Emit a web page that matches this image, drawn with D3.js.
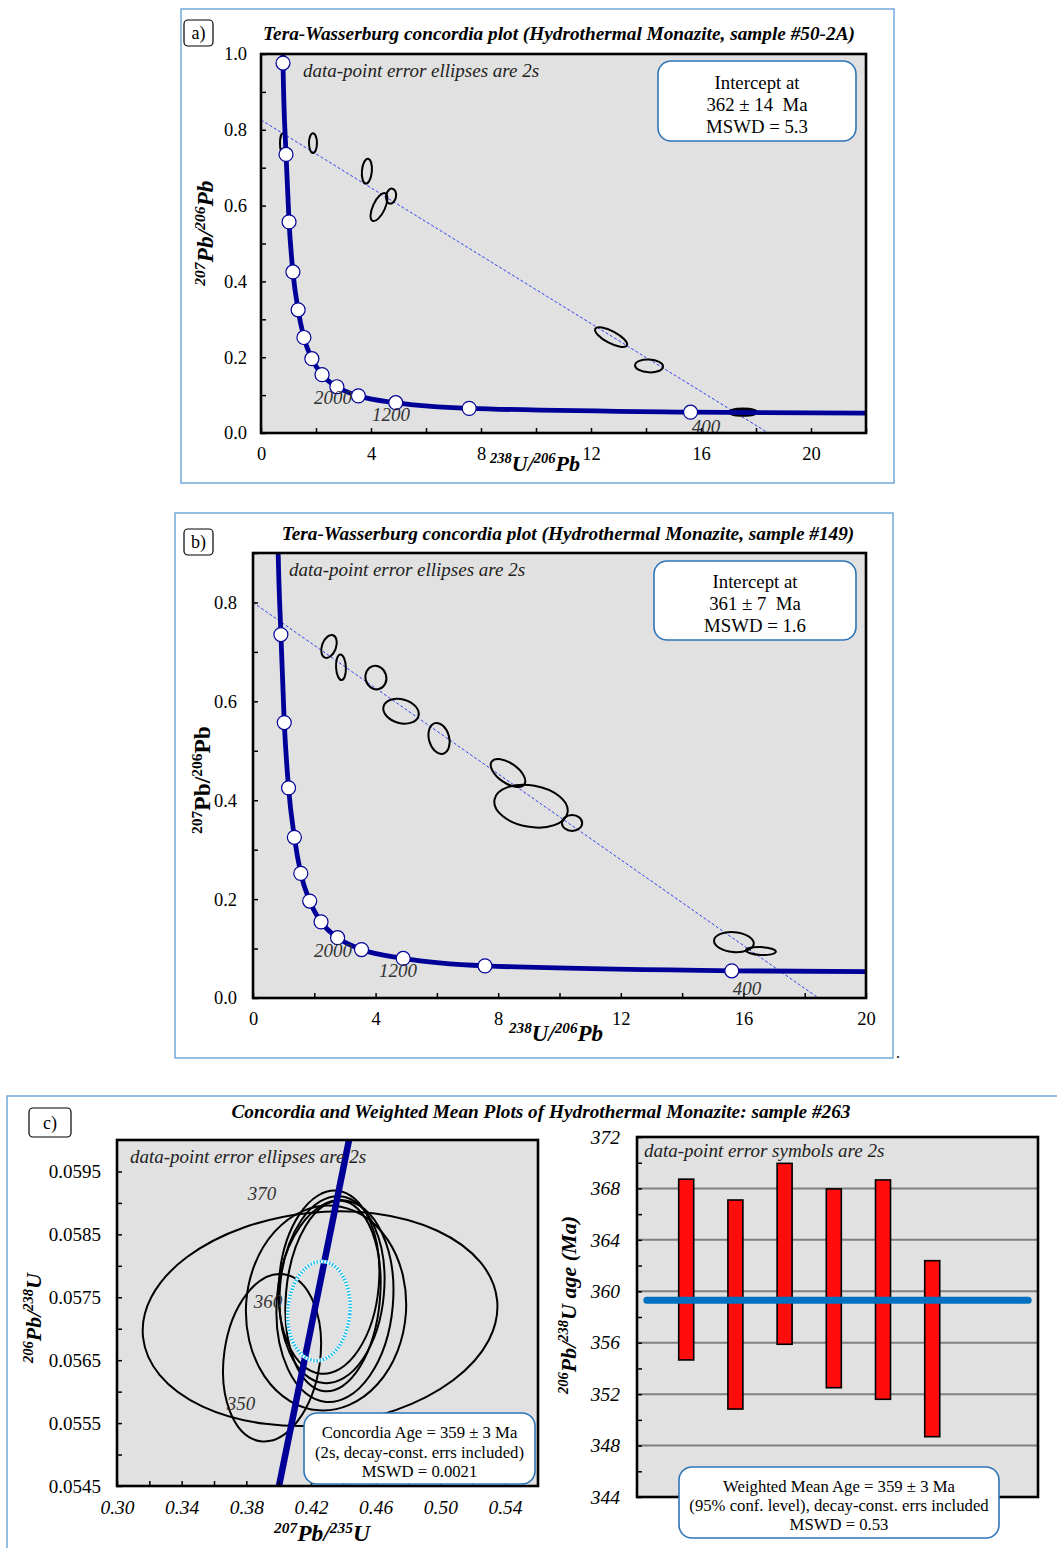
<!DOCTYPE html>
<html>
<head>
<meta charset="utf-8">
<script src="https://cdn.jsdelivr.net/npm/d3@7"></script>
<style>
  body { margin: 0; background: #fff; }
  text { font-family: "Liberation Serif", "Times New Roman", serif; }
</style>
</head>
<body>
<svg id="chart" width="1057" height="1548"></svg>
<script>
// ---- data ----

// concordia reference points (Tera-Wasserburg), every 400 Ma
const concAges = [5200, 4800, 4400, 4000, 3600, 3200, 2800, 2400, 2000, 1600, 1200, 800, 400];
const concX = [0.80, 0.91, 1.02, 1.16, 1.35, 1.56, 1.85, 2.22, 2.76, 3.54, 4.90, 7.57, 15.62];
const concY = [0.976, 0.735, 0.557, 0.425, 0.325, 0.252, 0.196, 0.154, 0.122, 0.098, 0.080, 0.065, 0.055];
// where the curve runs on past the first and last marker
const concTop = [0.79, 1.05];
const concTail = [22, 0.0525];

// age labels on the TW concordia: [label, x, y]
const twAgeLabelsA = [["2000", 2.62, 0.092], ["1200", 4.73, 0.047], ["400", 16.18, 0.016]];
const twAgeLabelsB = [["2000", 2.61, 0.095], ["1200", 4.73, 0.055], ["400", 16.12, 0.018]];

// error ellipses: [238U/206Pb, 207Pb/206Pb, half-width, half-height, tilt deg]
const ellipsesA = [
  [0.80, 0.765, 0.11, 0.026, 0],
  [1.89, 0.765, 0.145, 0.026, 0],
  [3.85, 0.691, 0.18, 0.033, 5],
  [4.29, 0.596, 0.22, 0.040, 25],
  [4.73, 0.625, 0.18, 0.020, 10],
  [12.73, 0.253, 0.65, 0.016, 28],
  [14.11, 0.177, 0.51, 0.017, 3],
  [17.53, 0.055, 0.47, 0.008, 0]
];
const ellipsesB = [
  [2.48, 0.711, 0.23, 0.024, 20],
  [2.87, 0.669, 0.16, 0.026, -3],
  [4.01, 0.648, 0.34, 0.024, -15],
  [4.83, 0.580, 0.59, 0.024, 15],
  [6.07, 0.525, 0.33, 0.032, -15],
  [8.32, 0.455, 0.65, 0.020, 35],
  [9.07, 0.388, 1.21, 0.042, 10],
  [10.41, 0.354, 0.33, 0.016, 0],
  [15.69, 0.113, 0.65, 0.020, 5],
  [16.57, 0.095, 0.49, 0.008, 3]
];
// discordia: [y-intercept at x=0, x-intercept at y=0]
const discordiaA = [0.826, 18.45];
const discordiaB = [0.800, 18.45];

// panel c, Wetherill concordia (207Pb/235U, 206Pb/238U)
const wethConcX = [0.4002, 0.4435];
const wethConcY = [0.0545, 0.0600];
const wethAgeLabels = [["370", 0.3897, 0.05914], ["360", 0.3934, 0.05743], ["350", 0.3767, 0.05580]];
const ellipsesC = [
  [0.4256, 0.05716, 0.1101, 0.00169, -6],
  [0.3959, 0.05654, 0.0297, 0.00134, 8],
  [0.4311, 0.05774, 0.0309, 0.00146, 5],
  [0.4330, 0.05762, 0.0322, 0.00149, 5],
  [0.4348, 0.05744, 0.0359, 0.00161, 5],
  [0.4293, 0.05733, 0.0495, 0.00163, 4],
  [0.4336, 0.05752, 0.0291, 0.00152, 5]
];
const concordiaEllipse = [0.4249, 0.05728, 0.0192, 0.00079, 5];

// weighted mean: each spot's 2s age range (Ma)
const spotIndex = [1, 2, 3, 4, 5, 6];
const spotHigh = [368.72, 367.10, 369.95, 367.96, 368.66, 362.38];
const spotLow = [354.66, 350.84, 355.88, 352.50, 351.60, 348.69];
const meanAge = 359.3;

// ---- drawing ----
const svg = d3.select("#chart");
const FRAME = "#5b9bd5", BOX = "#2e75b6", CONC = "#000099", PLOTBG = "#e1e1e1";

function frame(x0, y0, w, h) {
  svg.append("rect").attr("x", x0).attr("y", y0).attr("width", w).attr("height", h)
    .attr("fill", "none").attr("stroke", FRAME).attr("stroke-width", 1.3);
}

function tag(x0, y0, w, h, label) {
  svg.append("rect").attr("x", x0).attr("y", y0).attr("width", w).attr("height", h)
    .attr("rx", 4).attr("fill", "#fff").attr("stroke", "#000").attr("stroke-width", 1.2);
  svg.append("text").attr("x", x0 + w / 2).attr("y", y0 + h / 2 + 6)
    .attr("text-anchor", "middle").style("font-size", "18px").text(label);
}

function title(cx, by, txt) {
  svg.append("text").attr("x", cx).attr("y", by).attr("text-anchor", "middle")
    .style("font-size", "19.3px").style("font-weight", "bold").style("font-style", "italic")
    .text(txt);
}

function note(x0, by, txt) {
  svg.append("text").attr("x", x0).attr("y", by)
    .style("font-size", "19px").style("font-style", "italic").attr("fill", "#222")
    .text(txt);
}

function infoBox(x0, y0, w, h, lines, size, first, gap) {
  svg.append("rect").attr("x", x0).attr("y", y0).attr("width", w).attr("height", h)
    .attr("rx", 13).attr("fill", "#fff").attr("stroke", BOX).attr("stroke-width", 1.6);
  lines.forEach((t, i) => {
    svg.append("text").attr("x", x0 + w / 2).attr("y", y0 + first + i * gap)
      .attr("text-anchor", "middle").style("font-size", size + "px").text(t);
  });
}

// text with superscript isotope numbers
function richText(sel, parts, size) {
  let shift = 0;
  parts.forEach(([t, sup]) => {
    const target = sup ? -size * 0.36 : 0;
    sel.append("tspan").attr("dy", target - shift)
      .style("font-size", (sup ? size * 0.66 : size) + "px").text(t);
    shift = target;
  });
}

function axisLabel(x0, y0, parts, size, rotate, italic) {
  const t = svg.append("text")
    .attr("transform", `translate(${x0},${y0})` + (rotate ? " rotate(-90)" : ""))
    .attr("text-anchor", "middle").style("font-weight", "bold")
    .style("font-style", italic ? "italic" : "normal");
  richText(t, parts, size);
}

function styleAxis(g, size, italic) {
  g.select(".domain").remove();
  g.selectAll(".tick line").attr("stroke", "#000").attr("stroke-width", 1.5);
  g.selectAll("text").style("font-family", '"Liberation Serif", serif')
    .style("font-size", size + "px").style("font-style", italic ? "italic" : "normal")
    .attr("fill", "#000");
}

function drawEllipses(g, data, x, y) {
  return g.selectAll(null).data(data).enter().append("ellipse")
    .attr("transform", d => `translate(${x(d[0])},${y(d[1])}) rotate(${d[4]})`)
    .attr("rx", d => x(d[0] + d[2]) - x(d[0]))
    .attr("ry", d => y(d[1]) - y(d[1] + d[3]))
    .attr("fill", "none").attr("stroke", "#000").attr("stroke-width", 2);
}

function plotBox(id, left, top, w, h) {
  svg.append("rect").attr("x", left).attr("y", top).attr("width", w).attr("height", h)
    .attr("fill", PLOTBG);
  svg.append("clipPath").attr("id", id).append("rect")
    .attr("x", left).attr("y", top).attr("width", w).attr("height", h);
  return svg.append("g").attr("clip-path", `url(#${id})`);
}

function plotBorder(left, top, w, h) {
  svg.append("rect").attr("x", left).attr("y", top).attr("width", w).attr("height", h)
    .attr("fill", "none").attr("stroke", "#000").attr("stroke-width", 2.6);
}

// Tera-Wasserburg panel (a and b)
function teraPanel(c) {
  const x = d3.scaleLinear().domain(c.xDomain).range([c.left, c.left + c.width]);
  const y = d3.scaleLinear().domain(c.yDomain).range([c.top + c.height, c.top]);
  const g = plotBox(c.id, c.left, c.top, c.width, c.height);

  // discordia
  g.append("line")
    .attr("x1", x(0)).attr("y1", y(c.discordia[0]))
    .attr("x2", x(c.discordia[1])).attr("y2", y(0))
    .attr("stroke", "#3344ee").attr("stroke-width", 1).attr("stroke-dasharray", "3,2");

  const ell = drawEllipses(g, c.ellipses, x, y);
  if (c.solidLast) ell.filter((d, i) => i === c.ellipses.length - 1)
    .attr("fill", "#000").attr("stroke-width", 3);

  // concordia curve
  const pts = [concTop].concat(concX.map((v, i) => [v, concY[i]])).concat([concTail]);
  g.append("path").datum(pts)
    .attr("d", d3.line().x(d => x(d[0])).y(d => y(d[1])).curve(d3.curveMonotoneX))
    .attr("fill", "none").attr("stroke", CONC).attr("stroke-width", 4.8);

  g.selectAll(null).data(concAges.map((a, i) => [concX[i], concY[i]])
      .filter(d => d[1] <= c.yDomain[1])).enter()
    .append("circle").attr("cx", d => x(d[0])).attr("cy", d => y(d[1])).attr("r", 7)
    .attr("fill", "#fff").attr("stroke", CONC).attr("stroke-width", 1.2);

  g.selectAll(null).data(c.ageLabels).enter().append("text")
    .attr("x", d => x(d[1])).attr("y", d => y(d[2]) + 6).attr("text-anchor", "middle")
    .style("font-size", "19px").style("font-style", "italic").attr("fill", "#333")
    .text(d => d[0]);

  note(c.noteX, c.top + 23, "data-point error ellipses are 2s");

  // axes
  const gx = svg.append("g").attr("transform", `translate(0,${c.top + c.height})`)
    .call(d3.axisBottom(x).tickValues(d3.range(0, c.xDomain[1] + 0.01, 2))
      .tickSizeInner(-5).tickSizeOuter(0).tickPadding(c.xPad)
      .tickFormat(d => d % 4 === 0 ? d : ""));
  styleAxis(gx, 18.5, false);
  const gy = svg.append("g").attr("transform", `translate(${c.left},0)`)
    .call(d3.axisLeft(y).tickValues(d3.range(0, c.yDomain[1] + 0.001, 0.1))
      .tickSizeInner(-5).tickSizeOuter(0).tickPadding(c.yPad)
      .tickFormat(d => Math.round(d * 10) % 2 === 0 ? d3.format(".1f")(d) : ""));
  styleAxis(gy, 18.5, false);

  plotBorder(c.left, c.top, c.width, c.height);
}

// ---------- panel a ----------
frame(181, 9, 713, 474);
tag(184, 20, 29, 26, "a)");
title(559, 40, "Tera-Wasserburg concordia plot (Hydrothermal Monazite, sample #50-2A)");
teraPanel({
  id: "clipA", left: 261, top: 54, width: 605, height: 379,
  xDomain: [0, 22], yDomain: [0, 1.0], ellipses: ellipsesA, solidLast: true,
  discordia: discordiaA, ageLabels: twAgeLabelsA, noteX: 303, xPad: 14, yPad: 14
});
infoBox(658, 61, 198, 80, ["Intercept at", "362 \u00b1 14\u00a0 Ma", "MSWD = 5.3"], 18.8, 28, 22);
axisLabel(535, 471, [["238", 1], ["U/", 0], ["206", 1], ["Pb", 0]], 22, false, true);
axisLabel(213, 233, [["207", 1], ["Pb/", 0], ["206", 1], ["Pb", 0]], 23.5, true, true);

// ---------- panel b ----------
frame(175, 513, 718, 545);
tag(184, 529, 29, 26, "b)");
title(568, 540, "Tera-Wasserburg concordia plot (Hydrothermal Monazite, sample #149)");
teraPanel({
  id: "clipB", left: 253, top: 553, width: 613, height: 445,
  xDomain: [0, 20], yDomain: [0, 0.9], ellipses: ellipsesB, solidLast: false,
  discordia: discordiaB, ageLabels: twAgeLabelsB, noteX: 289, xPad: 14, yPad: 16
});
infoBox(654, 561, 202, 79, ["Intercept at", "361 \u00b1 7\u00a0 Ma", "MSWD = 1.6"], 18.8, 27, 22);
axisLabel(556, 1041, [["238", 1], ["U/", 0], ["206", 1], ["Pb", 0]], 23, false, true);
axisLabel(210, 780, [["207", 1], ["Pb/", 0], ["206", 1], ["Pb", 0]], 23.5, true, false);
svg.append("text").attr("x", 896).attr("y", 1058).style("font-size", "16px").text(".");

// ---------- panel c ----------
frame(7, 1096, 1060, 470);
tag(29, 1108, 42, 29, "c)");
title(541, 1118, "Concordia and Weighted Mean Plots of Hydrothermal Monazite: sample #263");

// left: Wetherill concordia
{
  const left = 117, top = 1140, w = 421, h = 346;
  const x = d3.scaleLinear().domain([0.30, 0.5604]).range([left, left + w]);
  const y = d3.scaleLinear().domain([0.0545, 0.0600]).range([top + h, top]);
  const g = plotBox("clipC", left, top, w, h);

  drawEllipses(g, ellipsesC, x, y);

  g.append("path").datum(wethConcX.map((v, i) => [v, wethConcY[i]]))
    .attr("d", d3.line().x(d => x(d[0])).y(d => y(d[1])))
    .attr("fill", "none").attr("stroke", CONC).attr("stroke-width", 6.5);

  // concordia age ellipse (dotted cyan)
  const ce = drawEllipses(g, [concordiaEllipse], x, y);
  ce.attr("stroke", "#fff").attr("stroke-width", 3.5);
  drawEllipses(g, [concordiaEllipse], x, y)
    .attr("stroke", "#22bbee").attr("stroke-width", 3.5).attr("stroke-dasharray", "1.6,1.6");

  g.selectAll(null).data(wethAgeLabels).enter().append("text")
    .attr("x", d => x(d[1])).attr("y", d => y(d[2]) + 6).attr("text-anchor", "middle")
    .style("font-size", "19px").style("font-style", "italic").attr("fill", "#333")
    .text(d => d[0]);

  note(130, 1163, "data-point error ellipses are 2s");

  const gx = svg.append("g").attr("transform", `translate(0,${top + h})`)
    .call(d3.axisBottom(x).tickValues(d3.range(0.30, 0.561, 0.02))
      .tickSizeInner(-5).tickSizeOuter(0).tickPadding(14)
      .tickFormat(d => Math.round(d * 100) % 4 === 2 ? d3.format(".2f")(d) : ""));
  styleAxis(gx, 19.5, true);
  const gy = svg.append("g").attr("transform", `translate(${left},0)`)
    .call(d3.axisLeft(y).tickValues(d3.range(0.0545, 0.06, 0.0005))
      .tickSizeInner(-5).tickSizeOuter(0).tickPadding(16)
      .tickFormat((d, i) => i % 2 === 0 ? d3.format(".4f")(d) : ""));
  styleAxis(gy, 19, false);
  plotBorder(left, top, w, h);

  infoBox(304, 1413, 231, 71,
    ["Concordia Age = 359 \u00b1 3 Ma", "(2s, decay-const. errs included)", "MSWD = 0.0021"],
    16.7, 25, 19.5);
  axisLabel(322, 1541, [["207", 1], ["Pb/", 0], ["235", 1], ["U", 0]], 23.5, false, true);
  axisLabel(41, 1318, [["206", 1], ["Pb/", 0], ["238", 1], ["U", 0]], 22, true, true);
}

// right: weighted mean
{
  const left = 637, top = 1137, w = 401, h = 360;
  const x = d3.scaleLinear().domain([0, 8.15]).range([left, left + w]);
  const y = d3.scaleLinear().domain([344, 372]).range([top + h, top]);
  const g = plotBox("clipD", left, top, w, h);

  g.selectAll(null).data(d3.range(348, 369, 4)).enter().append("line")
    .attr("x1", left).attr("x2", left + w).attr("y1", d => y(d)).attr("y2", d => y(d))
    .attr("stroke", "#808080").attr("stroke-width", 2);

  const bw = 15;
  g.selectAll(null).data(spotIndex).enter().append("rect")
    .attr("x", d => x(d) - bw / 2).attr("width", bw)
    .attr("y", (d, i) => y(spotHigh[i])).attr("height", (d, i) => y(spotLow[i]) - y(spotHigh[i]))
    .attr("fill", "#ff0d0d").attr("stroke", "#000").attr("stroke-width", 1.6);

  g.append("line").attr("x1", x(0.2)).attr("x2", x(7.95))
    .attr("y1", y(meanAge)).attr("y2", y(meanAge))
    .attr("stroke", "#0070c0").attr("stroke-width", 7).attr("stroke-linecap", "round");

  note(644, 1157, "data-point error symbols are 2s");

  const gy = svg.append("g").attr("transform", `translate(${left},0)`)
    .call(d3.axisLeft(y).tickValues(d3.range(344, 373, 2))
      .tickSizeInner(-5).tickSizeOuter(0).tickPadding(17)
      .tickFormat(d => d % 4 === 0 ? d : ""));
  styleAxis(gy, 19.5, true);
  plotBorder(left, top, w, h);

  infoBox(679, 1467, 320, 71,
    ["Weighted Mean Age = 359 \u00b1 3 Ma", "(95% conf. level), decay-const. errs included", "MSWD = 0.53"],
    16.7, 25, 19);
  axisLabel(576, 1305, [["206", 1], ["Pb/", 0], ["238", 1], ["U age (Ma)", 0]], 22, true, true);
}
</script>
</body>
</html>
